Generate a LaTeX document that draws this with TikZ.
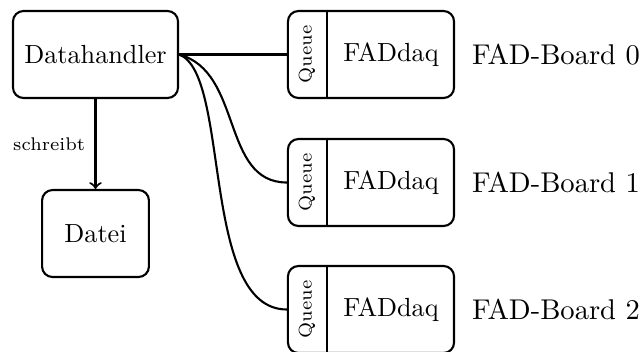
\documentclass[tikz,border=0pt]{standalone}
\begin{document}
\begin{tikzpicture}[x=0.3817pt,y=-0.3817pt,line width=0.8pt,
  box/.style={draw,rounded corners=4pt,minimum height=33.2pt,inner sep=0pt},
  queuetext/.style={rotate=90,font=\scriptsize,inner sep=0pt},
  boardlabel/.style={anchor=west,inner sep=0pt,font=\fontsize{10.9}{13}\selectfont}]
\useasboundingbox (0,0) rectangle (644,351);
\node[box,minimum width=63pt] (dh) at (95.5,54.5) {Datahandler};
\node[box,minimum width=40.8pt] (datei) at (95.5,233.5) {Datei};
\draw[->] (dh.south) -- (datei.north) node[midway,left,font=\scriptsize,inner sep=3.6pt] (lbl) {schreibt};
\foreach \i/\y in {0/54.5,1/182.5,2/309.5}{
  \node[box,minimum width=63.4pt] (fad\i) at (371,\y) {};
  \draw ([xshift=15.27pt]fad\i.north west) -- ([xshift=15.27pt]fad\i.south west);
  \node[queuetext] (q\i) at ([xshift=7.63pt]fad\i.west) {Queue};
  \node[inner sep=0pt] (daq\i) at ([xshift=7.63pt]fad\i.center) {FADdaq};
  \node[boardlabel] (lab\i) at (471,\y) {FAD-Board \i};
}
\draw (dh.east) -- (fad0.west);
\draw (dh.east) .. controls +(64,17) and +(-66,0) .. (fad1.west);
\draw (dh.east) .. controls +(52,19) and +(-87,0) .. (fad2.west);
\end{tikzpicture}
\end{document}
